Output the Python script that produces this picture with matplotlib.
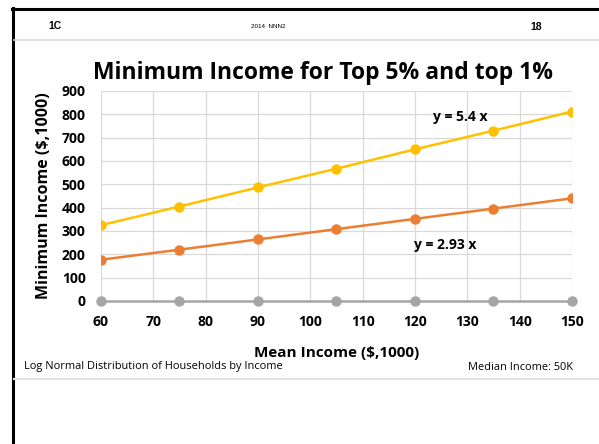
import matplotlib
matplotlib.use("Agg")
import matplotlib.pyplot as plt
from matplotlib.lines import Line2D

mean_income = [60, 75, 90, 105, 120, 135, 150]
top5 = [325, 405, 487, 567, 650, 730, 812]
top1 = [177, 220, 264, 308, 352, 396, 440]
base = [0, 0, 0, 0, 0, 0, 0]
y_ticks = [0, 100, 200, 300, 400, 500, 600, 700, 800, 900]
x_ticks = [60, 70, 80, 90, 100, 110, 120, 130, 140, 150]

FONT = ['Open Sans', 'DejaVu Sans']
plt.rcParams['font.family'] = FONT
plt.rcParams['font.weight'] = 'bold'

fig = plt.figure(figsize=(5.99, 4.44), dpi=100)
W, H = 599, 444

def px(x, y):
    return x / W, 1 - y / H

# frame
fig.add_artist(Line2D([13/W, 13/W], [px(0, 8)[1], 0], color='black', lw=2.2))
fig.add_artist(Line2D([12/W, 1], [px(0, 9)[1]] * 2, color='black', lw=2.2))
fig.add_artist(Line2D([14/W, 1], [px(0, 40)[1]] * 2, color='#d9d9d9', lw=1.2))
fig.add_artist(Line2D([14/W, 1], [px(0, 379)[1]] * 2, color='#e3e3e3', lw=1.5))

# header
fig.text(*px(48, 26), '1C', family=['Liberation Sans'], fontsize=7.5, fontweight='bold', va='center', ha='left')
fig.text(*px(268, 26), '2014  NNN2', family=['Liberation Sans'], fontsize=4.5, fontweight='normal', va='center', ha='center')
fig.text(*px(530, 27), '18', family=['Liberation Sans'], fontsize=7.5, fontweight='bold', va='center', ha='left')

ax = fig.add_axes([101/W, 1 - 301/H, (572-101)/W, (301-91)/H])
ax.plot(mean_income, top1, color='#ED7D31', lw=1.8, marker='o', ms=6.5, zorder=3)
ax.plot(mean_income, top5, color='#FFC000', lw=1.8, marker='o', ms=6.5, zorder=3)
ax.plot(mean_income, base, color='#A5A5A5', lw=1.8, marker='o', ms=6.5, zorder=3, clip_on=False)

ax.set_xlim(60, 150)
ax.set_ylim(0, 900)
ax.set_xticks(x_ticks)
ax.set_yticks(y_ticks)
ax.grid(True, color='#d9d9d9', lw=0.9)
ax.set_axisbelow(True)
for s in ax.spines.values():
    s.set_visible(False)
ax.tick_params(axis='y', length=0, labelsize=10, pad=11)
ax.tick_params(axis='x', length=0, labelsize=10, pad=10)

ax.set_xlabel('Mean Income ($,1000)', fontsize=11, fontweight='bold', labelpad=12)
ax.set_ylabel('Minimum Income ($,1000)', fontsize=11.5, fontweight='bold', labelpad=7)

ax.text(128.6, 789, 'y = 5.4 x', fontsize=10, fontweight='bold', ha='center', va='center')
ax.text(125.7, 240, 'y = 2.93 x', fontsize=10, fontweight='bold', ha='center', va='center')

fig.text(*px(323, 73), 'Minimum Income for Top 5% and top 1%', fontsize=16.5, fontweight='bold', ha='center', va='center')

fig.text(*px(24, 366), 'Log Normal Distribution of Households by Income', fontsize=7.95, fontweight='normal', ha='left', va='center')
fig.text(*px(573, 368), 'Median Income: 50K', fontsize=7.95, fontweight='normal', ha='right', va='center')

fig.savefig('out.png', dpi=100)
